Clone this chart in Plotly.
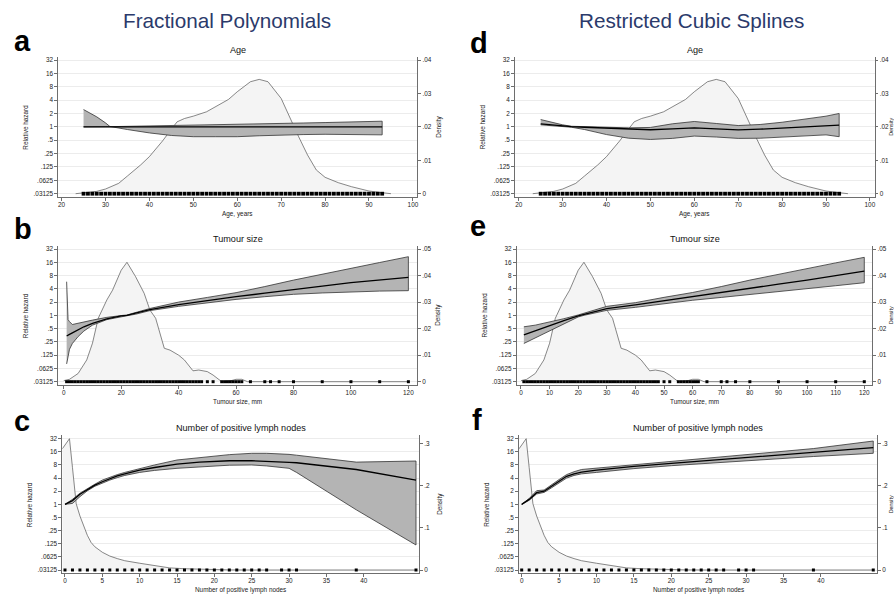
import math
import plotly.graph_objects as go

W, H = 894, 595
FONT = "Liberation Sans, Arial, Helvetica, sans-serif"

# ------------------------------------------------------------------ data
hr_ticks = [0.03125, 0.0625, 0.125, 0.25, 0.5, 1, 2, 4, 8, 16, 32]
hr_labels = [".03125", ".0625", ".125", ".25", ".5", "1", "2", "4", "8", "16", "32"]

age_ticks = [20, 30, 40, 50, 60, 70, 80, 90, 100]
tum_ticks_fp = [0, 20, 40, 60, 80, 100, 120]
tum_ticks_rcs = [0, 10, 20, 30, 40, 50, 60, 70, 80, 90, 100, 110, 120]
lymph_ticks = [0, 5, 10, 15, 20, 25, 30, 35, 40]

dens_ticks_age = [0, 0.01, 0.02, 0.03, 0.04]
dens_labels_age = ["0", ".01", ".02", ".03", ".04"]
dens_ticks_tum = [0, 0.01, 0.02, 0.03, 0.04, 0.05]
dens_labels_tum = ["0", ".01", ".02", ".03", ".04", ".05"]
dens_ticks_lymph = [0, 0.1, 0.2, 0.3]
dens_labels_lymph = ["0", ".1", ".2", ".3"]

# kernel densities
age_dens_x = [23.2, 26, 28, 30, 33, 35, 38, 40, 43, 45, 46.3, 48, 50, 53, 55, 58, 60,
              63, 65, 67, 70, 72, 74, 76, 78, 80, 83, 86, 90, 93, 95]
age_dens_y = [0, 0.0003, 0.0007, 0.0014, 0.0031, 0.0053, 0.0086, 0.0111, 0.0158, 0.0193,
              0.0215, 0.0225, 0.0232, 0.0245, 0.026, 0.0282, 0.0305, 0.0335, 0.0342, 0.0335,
              0.0285, 0.0225, 0.017, 0.0116, 0.0071, 0.0049, 0.0033, 0.0021, 0.0008, 0.0003, 0]

tum_dens_x = [0, 2, 5, 8, 10, 12, 15, 17, 20, 22, 25, 28, 30, 32, 35, 37, 40, 42, 45, 47,
              50, 52, 55, 58, 60, 62, 64, 120]
tum_dens_y = [0.0004, 0.0009, 0.0031, 0.0082, 0.0145, 0.0239, 0.0308, 0.0345, 0.042, 0.045,
              0.0396, 0.0333, 0.027, 0.0239, 0.0126, 0.0119, 0.01, 0.0082, 0.0041, 0.0044,
              0.0038, 0.0025, 0.0, 0.0003, 0.0009, 0.0009, 0.0, 0.0]

lymph_dens_x = [-0.36, 0.6, 1.0, 1.5, 2.0, 2.5, 3.0, 3.5, 4.0, 5.0, 6.0, 7.0, 8.0, 10, 12,
                14, 16, 18, 20, 22, 25, 47]
lymph_dens_y = [0.287, 0.311, 0.243, 0.157, 0.128, 0.104, 0.082, 0.065, 0.055, 0.042, 0.033,
                0.027, 0.022, 0.016, 0.01, 0.005, 0.003, 0.0015, 0.0005, 0.0002, 0, 0]

# rug (observed values)
age_rug = [25, 26, 27, 28, 29, 30, 31, 32, 33, 34, 35, 36, 37, 38, 39, 40, 41, 42, 43, 44,
           45, 46, 47, 48, 49, 50, 51, 52, 53, 54, 55, 56, 57, 58, 59, 60, 61, 62, 63, 64,
           65, 66, 67, 68, 69, 70, 71, 72, 73, 74, 75, 76, 77, 78, 79, 80, 81, 82, 83, 84,
           85, 86, 87, 88, 89, 90, 91, 92, 93]
tum_rug = [1, 2, 3, 4, 5, 6, 7, 8, 9, 10, 11, 12, 13, 14, 15, 16, 17, 18, 19, 20, 21, 22,
           23, 24, 25, 26, 27, 28, 29, 30, 31, 32, 33, 34, 35, 36, 37, 38, 39, 40, 41, 42,
           43, 44, 45, 46, 47, 48, 50, 52, 55, 56, 57, 58, 59, 60, 61, 62, 65, 70, 72, 75,
           80, 90, 100, 110, 120]
lymph_rug = [0, 1, 2, 3, 4, 5, 6, 7, 8, 9, 10, 11, 12, 13, 14, 15, 16, 17, 18, 19, 20, 21,
             22, 23, 24, 25, 26, 27, 29, 30, 31, 39, 47]

# (a) FP age
age_fp_x = [25, 28, 30, 31, 35, 40, 45, 50, 55, 60, 65, 70, 75, 80, 90, 93]
age_fp_est = [1, 1, 1, 1, 1, 1, 1, 1, 1, 1, 1, 1, 1, 1, 1, 1]
age_fp_ci1 = [2.45, 1.68, 1.23, 1.02, 0.87, 0.73, 0.64, 0.6, 0.6, 0.6, 0.63, 0.66, 0.67,
              0.68, 0.67, 0.66]
age_fp_ci2 = [1.0, 1.0, 1.01, 1.01, 1.02, 1.03, 1.05, 1.07, 1.1, 1.13, 1.16, 1.19, 1.22,
              1.25, 1.31, 1.34]

# (d) RCS age
age_rcs_x = [25, 28, 30, 32, 35, 40, 45, 50, 55, 60, 65, 70, 75, 80, 85, 90, 93]
age_rcs_est = [1.17, 1.09, 1.05, 1.01, 0.98, 0.93, 0.886, 0.86, 0.9, 0.95, 0.9, 0.856,
               0.886, 0.93, 0.98, 1.05, 1.09]
age_rcs_lo = [1.11, 1.05, 1.0, 0.98, 0.87, 0.67, 0.556, 0.52, 0.55, 0.62, 0.59, 0.55,
              0.555, 0.59, 0.62, 0.66, 0.6]
age_rcs_hi = [1.46, 1.22, 1.11, 1.03, 1.0, 0.98, 0.95, 0.97, 1.17, 1.32, 1.19, 1.07, 1.13,
              1.27, 1.46, 1.74, 2.0]

# (b) FP tumour size
tum_fp_x = [1, 1.5, 2, 3, 5, 7, 10, 15, 20, 22, 25, 30, 40, 50, 60, 70, 80, 90, 100, 110, 120]
tum_fp_est = [0.34, 0.35, 0.37, 0.4, 0.47, 0.55, 0.66, 0.83, 0.97, 1.0, 1.12, 1.35, 1.75,
              2.18, 2.65, 3.18, 3.76, 4.6, 5.5, 6.4, 7.3]
tum_fp_lo = [0.079, 0.13, 0.17, 0.23, 0.33, 0.44, 0.6, 0.8, 0.95, 0.98, 1.06, 1.28, 1.6,
             1.95, 2.3, 2.65, 3.0, 3.22, 3.44, 3.55, 3.63]
tum_fp_hi = [5.8, 0.8, 0.72, 0.62, 0.64, 0.7, 0.78, 0.9, 0.99, 1.02, 1.17, 1.43, 2.0, 2.55,
             3.27, 4.5, 6.3, 8.6, 11.7, 15.8, 21.4]

# (e) RCS tumour size
tum_rcs_x = [1, 5, 10, 15, 20, 22, 25, 30, 40, 50, 60, 70, 80, 90, 100, 110, 120]
tum_rcs_est = [0.36, 0.45, 0.58, 0.76, 0.97, 1.05, 1.18, 1.42, 1.72, 2.15, 2.65, 3.3, 4.1,
               5.1, 6.3, 8.0, 10.1]
tum_rcs_lo = [0.23, 0.31, 0.45, 0.66, 0.92, 1.0, 1.1, 1.3, 1.52, 1.84, 2.2, 2.55, 2.95,
              3.4, 4.0, 4.7, 5.5]
tum_rcs_hi = [0.55, 0.6, 0.7, 0.84, 1.02, 1.09, 1.27, 1.6, 1.94, 2.56, 3.3, 4.5, 6.3, 8.5,
              11.6, 15.5, 20.7]

# (c) FP lymph nodes
lym_fp_x = [0, 1, 2, 3, 4, 5, 6, 7, 8, 10, 12, 15, 18, 20, 22, 25, 27, 30, 31, 39, 47]
lym_fp_est = [1.0, 1.22, 1.7, 2.2, 2.75, 3.3, 3.9, 4.5, 5.0, 6.1, 7.0, 8.4, 9.3, 9.7, 10.0,
              10.0, 9.8, 9.2, 9.0, 6.3, 3.6]
lym_fp_lo = [1.0, 1.05, 1.5, 2.05, 2.6, 3.1, 3.6, 4.1, 4.6, 5.4, 6.0, 6.7, 7.3, 7.6, 7.9,
             8.0, 7.6, 6.7, 5.4, 0.75, 0.117]
lym_fp_hi = [1.0, 1.3, 1.8, 2.3, 2.9, 3.6, 4.2, 4.8, 5.4, 6.7, 8.0, 10.4, 12.0, 12.8, 13.8,
             14.8, 14.8, 14.0, 13.4, 9.3, 9.85]

# (f) RCS lymph nodes
lym_rcs_x = [0, 1, 2, 3, 4, 5, 6, 7, 8, 10, 12, 15, 20, 25, 30, 39, 47]
lym_rcs_est = [1.0, 1.3, 1.85, 2.0, 2.6, 3.4, 4.4, 5.0, 5.5, 6.1, 6.6, 7.4, 8.7, 10.1, 11.7,
               15.4, 19.9]
lym_rcs_lo = [1.0, 1.24, 1.73, 1.88, 2.4, 3.1, 4.0, 4.6, 5.0, 5.4, 5.9, 6.6, 7.7, 8.8, 10.0,
              12.5, 14.8]
lym_rcs_hi = [1.0, 1.36, 2.06, 2.13, 2.8, 3.7, 4.8, 5.6, 6.3, 6.8, 7.3, 8.1, 9.85, 11.6,
              13.7, 19.0, 28.3]

# ------------------------------------------------------------------ panels
# left,right px; top tick (32) px, bottom tick (.03125) px
panels = [
    dict(letter="a", lx=12, ly=51, title="Age", xtitle="Age, years",
         xl=58.3, xr=417.3, t=60, b=193.7, xrange=[19.25, 101.0], xticks=age_ticks,
         dx=age_dens_x, dy=age_dens_y, D=0.04, dt=dens_ticks_age, dl=dens_labels_age,
         hx=age_fp_x, est=age_fp_est, lo=age_fp_ci1, hi=age_fp_ci2, rug=age_rug, rs=3.8),
    dict(letter="b", lx=12, ly=239, title="Tumour size", xtitle="Tumour size, mm",
         xl=58.3, xr=417.0, t=249, b=381.7, xrange=[-1.9, 123.0], xticks=tum_ticks_fp,
         dx=tum_dens_x, dy=tum_dens_y, D=0.05, dt=dens_ticks_tum, dl=dens_labels_tum,
         hx=tum_fp_x, est=tum_fp_est, lo=tum_fp_lo, hi=tum_fp_hi, rug=tum_rug, rs=3.0),
    dict(letter="c", lx=12, ly=431, title="Number of positive lymph nodes",
         xtitle="Number of positive lymph nodes",
         xl=62.3, xr=419.0, t=438.7, b=570, xrange=[-0.36, 47.4], xticks=lymph_ticks,
         dx=lymph_dens_x, dy=lymph_dens_y, D=0.311, dt=dens_ticks_lymph, dl=dens_labels_lymph,
         hx=lym_fp_x, est=lym_fp_est, lo=lym_fp_lo, hi=lym_fp_hi, rug=lymph_rug, rs=3.0),
    dict(letter="d", lx=468, ly=53, title="Age", xtitle="Age, years",
         xl=515.0, xr=874.5, t=60, b=193.7, xrange=[19.15, 101.05], xticks=age_ticks,
         dx=age_dens_x, dy=age_dens_y, D=0.04, dt=dens_ticks_age, dl=dens_labels_age,
         hx=age_rcs_x, est=age_rcs_est, lo=age_rcs_lo, hi=age_rcs_hi, rug=age_rug, rs=3.8),
    dict(letter="e", lx=468, ly=236, title="Tumour size", xtitle="Tumour size, mm",
         xl=516.7, xr=872.3, t=249, b=381.7, xrange=[-1.5, 122.8], xticks=tum_ticks_rcs,
         dx=tum_dens_x, dy=tum_dens_y, D=0.05, dt=dens_ticks_tum, dl=dens_labels_tum,
         hx=tum_rcs_x, est=tum_rcs_est, lo=tum_rcs_lo, hi=tum_rcs_hi, rug=tum_rug, rs=3.0),
    dict(letter="f", lx=470, ly=430, title="Number of positive lymph nodes",
         xtitle="Number of positive lymph nodes",
         xl=519.0, xr=877.0, t=438.7, b=570, xrange=[-0.36, 47.5], xticks=lymph_ticks,
         dx=lymph_dens_x, dy=lymph_dens_y, D=0.311, dt=dens_ticks_lymph, dl=dens_labels_lymph,
         hx=lym_rcs_x, est=lym_rcs_est, lo=lym_rcs_lo, hi=lym_rcs_hi, rug=lymph_rug, rs=3.0),
]

PAD = 3.3  # px between extreme tick and plot edge


def px_x(v):
    return v / W


def px_y(v):
    return 1 - v / H


fig = go.Figure()
layout = {}
annotations = []

tickfont = dict(family=FONT, size=6.4, color="#222")
small = dict(family=FONT, size=6.4, color="#222")
axcol = "#6e6e6e"

for i, p in enumerate(panels, start=1):
    xa = "x" if i == 1 else f"x{i}"
    yb_n = 2 * i - 1
    yo_n = 2 * i
    yb = "y" if yb_n == 1 else f"y{yb_n}"
    yo = f"y{yo_n}"
    top = p["t"] - PAD
    bot = p["b"] + PAD
    ydom = [px_y(bot), px_y(top)]
    xdom = [px_x(p["xl"]), px_x(p["xr"])]

    l32 = math.log10(32)
    ppu = (p["b"] - p["t"]) / (2 * l32)
    hr_range = [-l32 - PAD / ppu, l32 + PAD / ppu]
    ppd = (p["b"] - p["t"]) / p["D"]
    d_range = [-PAD / ppd, p["D"] + PAD / ppd]

    layout["xaxis" if i == 1 else f"xaxis{i}"] = dict(
        domain=xdom, anchor=yb, range=p["xrange"], tickmode="array",
        tickvals=p["xticks"], ticks="outside", ticklen=3, tickwidth=0.8,
        tickcolor=axcol, showline=True, linecolor=axcol, linewidth=0.8,
        showgrid=False, zeroline=False, tickfont=tickfont, mirror=False,
        ticklabelstandoff=-2)
    layout["yaxis" if yb_n == 1 else f"yaxis{yb_n}"] = dict(
        domain=ydom, anchor=xa, side="right", range=d_range, tickmode="array",
        tickvals=p["dt"], ticktext=p["dl"], ticks="outside", ticklen=3,
        tickwidth=0.8, tickcolor=axcol, showline=True, linecolor=axcol,
        linewidth=0.8, showgrid=False, zeroline=False, tickfont=tickfont)
    layout[f"yaxis{yo_n}"] = dict(
        overlaying=yb, anchor=xa, side="left", type="log", range=hr_range,
        tickmode="array", tickvals=hr_ticks, ticktext=hr_labels, ticks="outside",
        ticklen=3, tickwidth=0.8, tickcolor=axcol, showline=True, linecolor=axcol,
        linewidth=0.8, showgrid=True, gridcolor="#ececec", gridwidth=0.8,
        zeroline=False, tickfont=tickfont)

    # density
    fig.add_trace(go.Scatter(x=p["dx"], y=p["dy"], mode="lines", fill="tozeroy",
                             fillcolor="#f4f4f4", line=dict(color="#555", width=0.7),
                             xaxis=xa, yaxis=yb, hoverinfo="skip"))
    # CI band
    bx = p["hx"] + p["hx"][::-1]
    by = p["lo"] + p["hi"][::-1]
    fig.add_trace(go.Scatter(x=bx, y=by, mode="lines", fill="toself",
                             fillcolor="#b4b4b4", line=dict(color="#333", width=0.8),
                             xaxis=xa, yaxis=yo, hoverinfo="skip"))
    # estimate
    fig.add_trace(go.Scatter(x=p["hx"], y=p["est"], mode="lines",
                             line=dict(color="black", width=1.3),
                             xaxis=xa, yaxis=yo, hoverinfo="skip"))
    # rug
    fig.add_trace(go.Scatter(x=p["rug"], y=[hr_ticks[0]] * len(p["rug"]), mode="markers",
                             marker=dict(symbol="square", size=p["rs"], color="black",
                                         line=dict(width=0)),
                             xaxis=xa, yaxis=yo, hoverinfo="skip", cliponaxis=False))

    cx = (p["xl"] + p["xr"]) / 2
    cy = (top + bot) / 2
    annotations.append(dict(x=px_x(cx), y=px_y(p["t"] - 10.5), text=p["title"],
                            font=dict(family=FONT, size=9.1, color="#111"),
                            xanchor="center", yanchor="middle"))
    annotations.append(dict(x=px_x(cx), y=px_y(bot + 16.5), text=p["xtitle"], font=small,
                            xanchor="center", yanchor="middle"))
    annotations.append(dict(x=px_x(p["xl"] - 32.5), y=px_y(cy), text="Relative hazard",
                            font=small, textangle=-90, xanchor="center", yanchor="middle"))
    if p["xr"] + 21.5 < W - 6:
        dens_x, dens_font = p["xr"] + 21.5, small
    else:  # right column: squeeze against the page edge
        dens_x, dens_font = W - 3.0, dict(family=FONT, size=5.4, color="#222")
    annotations.append(dict(x=px_x(dens_x), y=px_y(cy), text="Density",
                            font=dens_font, textangle=-90, xanchor="center",
                            yanchor="middle"))
    annotations.append(dict(x=px_x(p["lx"]), y=px_y(p["ly"] - 10),
                            text="<b>" + p["letter"] + "</b>",
                            font=dict(family=FONT, size=29, color="black"),
                            xanchor="left", yanchor="middle"))

annotations.append(dict(x=px_x(227), y=px_y(21), text="Fractional Polynomials",
                        font=dict(family=FONT, size=20.7, color="#2b3a6b"),
                        xanchor="center", yanchor="middle"))
annotations.append(dict(x=px_x(691), y=px_y(21), text="Restricted Cubic Splines",
                        font=dict(family=FONT, size=20.7, color="#2b3a6b"),
                        xanchor="center", yanchor="middle"))
for a in annotations:
    a.update(xref="paper", yref="paper", showarrow=False)

fig.update_layout(width=W, height=H, margin=dict(l=0, r=0, t=0, b=0),
                  paper_bgcolor="white", plot_bgcolor="white", showlegend=False,
                  annotations=annotations, **layout)
fig.write_html("out.html", config={"displayModeBar": False},
               post_script="document.body.style.margin='0px';"
                           "document.body.style.overflow='hidden';")
